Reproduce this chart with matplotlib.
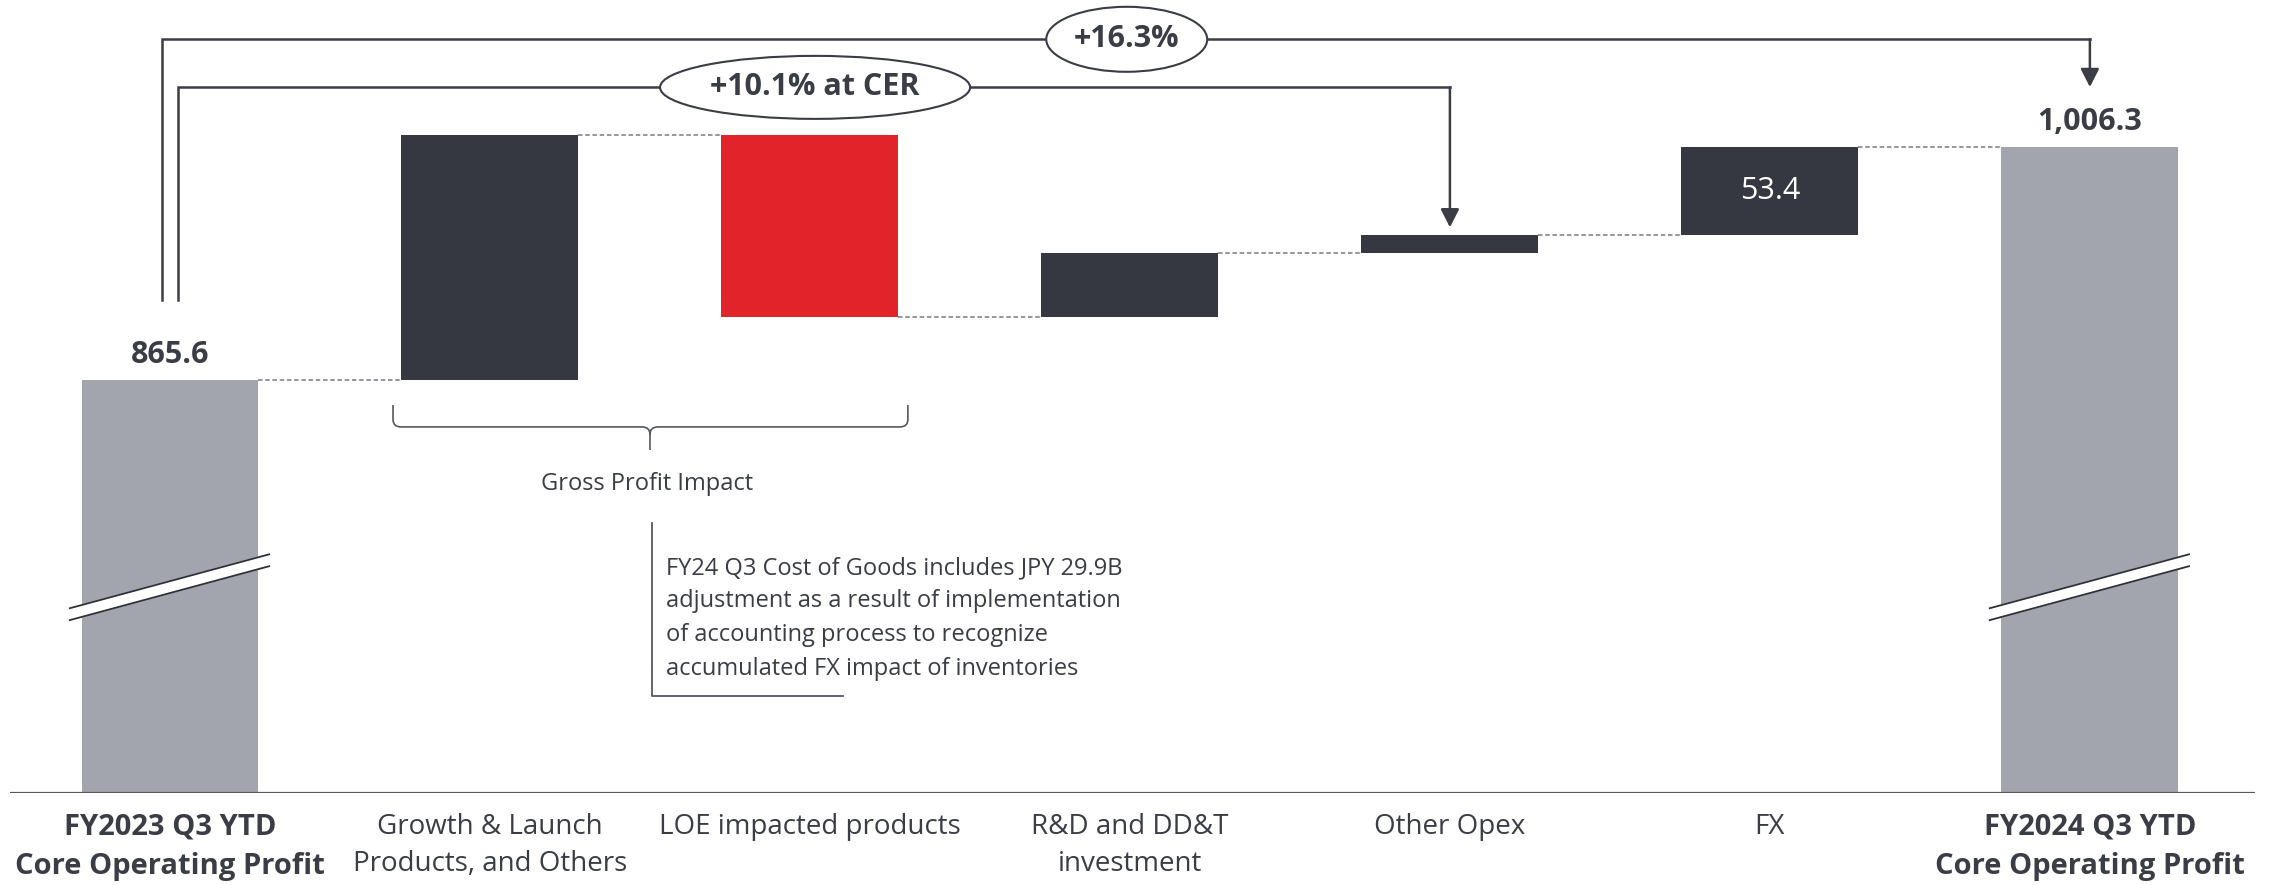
import matplotlib
matplotlib.use("Agg")
import matplotlib.pyplot as plt
import matplotlib.transforms as mtransforms
from matplotlib.patches import Ellipse, PathPatch
from matplotlib.path import Path

plt.rcParams["font.family"] = ["Open Sans", "DejaVu Sans"]

# Core operating profit bridge, JPY billions
categories = [
    "FY2023 Q3 YTD\nCore Operating Profit",
    "Growth & Launch\nProducts, and Others",
    "LOE impacted products",
    "R&D and DD&T\ninvestment",
    "Other Opex",
    "FX",
    "FY2024 Q3 YTD\nCore Operating Profit",
]
start_value = 865.6
end_value = 1006.3
deltas = [147.8, -109.6, 38.6, 10.5, 53.4]
delta_labels = ["", "", "", "", "53.4"]
growth_total = "+16.3%"
growth_cer = "+10.1% at CER"
note_text = ("FY24 Q3 Cost of Goods includes JPY 29.9B\n"
             "adjustment as a result of implementation\n"
             "of accounting process to recognize\n"
             "accumulated FX impact of inventories")

DARK = "#353841"
RED = "#E1232A"
GRAY = "#A2A5AD"
LINE = "#3A3D46"
TEXT = "#3A3D46"

BASE = 616.5        # value sitting on the axis line (broken axis)
W = 0.553

fig = plt.figure(figsize=(22.7, 8.85), dpi=100)
ax = fig.add_axes([10 / 2270, 92 / 885, 2245 / 2270, 793 / 885])
ax.set_xlim(-0.5, 6.516)
ax.set_ylim(BASE, 1094.8)
ax.axis("off")
ax.axhline(BASE, color="#55585F", lw=1.6, zorder=5)

n = len(categories)
xs = list(range(n))
last = n - 1

# totals
for x, v in ((0, start_value), (last, end_value)):
    ax.bar(x, v - BASE, bottom=BASE, width=W, color=GRAY, zorder=2)

# changes
levels = [start_value]
for i, d in enumerate(deltas):
    lo = levels[-1]
    levels.append(lo + d)
    color = RED if d < 0 else DARK
    ax.bar(i + 1, d, bottom=lo, width=W, color=color, zorder=2)
    if delta_labels[i]:
        ax.text(i + 1, lo + d / 2, delta_labels[i], ha="center", va="center",
                color="white", fontsize=22, zorder=4)

# dashed connectors between consecutive bars
for i in range(n - 1):
    ax.plot([i + W / 2, i + 1 - W / 2], [levels[i], levels[i]],
            color="#8C8F95", lw=1.3, ls=(0, (2.5, 1.5)), zorder=1)

for x, v, s in ((0, start_value, f"{start_value:,.1f}"),
                (last, end_value, f"{end_value:,.1f}")):
    ax.annotate(s, (x, v), xytext=(0, 18), textcoords="offset points",
                ha="center", va="center", fontsize=22, fontweight="bold",
                color=TEXT)

# axis-break marks on the total bars
tb = mtransforms.blended_transform_factory(ax.transData, ax.transAxes)
for x in (0, last):
    xl, xr = x - 0.313, x + 0.31
    band = [(xl, 0.218), (xr, 0.286), (xr, 0.301), (xl, 0.233)]
    ax.fill([p[0] for p in band], [p[1] for p in band], color="white",
            transform=tb, zorder=3)
    for y0, y1 in ((0.218, 0.286), (0.233, 0.301)):
        ax.plot([xl, xr], [y0, y1], color="#2E3038", lw=1.3,
                transform=tb, zorder=3)

# growth brackets with arrows
y_start = 913.9
y_outer = 1071.1
y_inner = 1042.1
arrow_kw = dict(arrowstyle="-|>,head_length=0.55,head_width=0.28",
                color=LINE, lw=1.8, shrinkA=0, shrinkB=0, mutation_scale=20)

ax.plot([-0.025, -0.025, last], [y_start, y_outer, y_outer],
        color=LINE, lw=1.8, zorder=3, solid_joinstyle="miter")
ax.annotate("", xy=(last, end_value + 36), xytext=(last, y_outer),
            arrowprops=arrow_kw, zorder=3)

ax.plot([0.025, 0.025, 4], [y_start, y_inner, y_inner],
        color=LINE, lw=1.8, zorder=3, solid_joinstyle="miter")
ax.annotate("", xy=(4, levels[4] + 4.8), xytext=(4, y_inner),
            arrowprops=arrow_kw, zorder=3)

for cx, cy, ew, eh, s in ((2.99, y_outer, 0.503, 39.2, growth_total),
                          (2.016, y_inner, 0.969, 38.0, growth_cer)):
    ax.add_patch(Ellipse((cx, cy), ew, eh, fc="white", ec=LINE, lw=1.5,
                         zorder=4))
    ax.text(cx, cy, s, ha="center", va="center", fontsize=22,
            fontweight="bold", color=TEXT, zorder=5)

# brace under the gross profit items
bl, br, bc = 0.697, 2.306, 1.5
yt, yh, yp = 850.5, 837.3, 823.4
rx, ry = 0.025, 4.5
verts = [(bl, yt), (bl, yh + ry), (bl, yh), (bl + rx, yh),
         (bc - rx, yh), (bc, yh), (bc, yh - ry), (bc, yp),
         (bc, yh - ry), (bc, yh), (bc + rx, yh),
         (br - rx, yh), (br, yh), (br, yh + ry), (br, yt)]
codes = [Path.MOVETO, Path.LINETO, Path.CURVE3, Path.CURVE3,
         Path.LINETO, Path.CURVE3, Path.CURVE3, Path.LINETO,
         Path.MOVETO, Path.CURVE3, Path.CURVE3,
         Path.LINETO, Path.CURVE3, Path.CURVE3, Path.LINETO]
ax.add_patch(PathPatch(Path(verts, codes), fc="none", ec="#55585F", lw=1.2))
ax.text(bc - 0.01, 802.9, "Gross Profit Impact", ha="center", va="center",
        fontsize=17, color=TEXT)

# cost of goods note
ax.plot([1.506, 1.506, 2.103], [779.4, 675.3, 675.3], color="#55585F",
        lw=1.3)
ax.text(1.55, 759.5, note_text, ha="left", va="top", fontsize=17,
        color=TEXT, linespacing=1.53)

# category labels
for i, lab in enumerate(categories):
    bold = i in (0, last)
    ax.text(i, -0.025, lab, transform=tb, ha="center", va="top",
            fontsize=21 if bold else 20,
            fontweight="bold" if bold else "normal",
            color=TEXT, linespacing=1.45)

fig.savefig("out.png", dpi=100, facecolor="white")
